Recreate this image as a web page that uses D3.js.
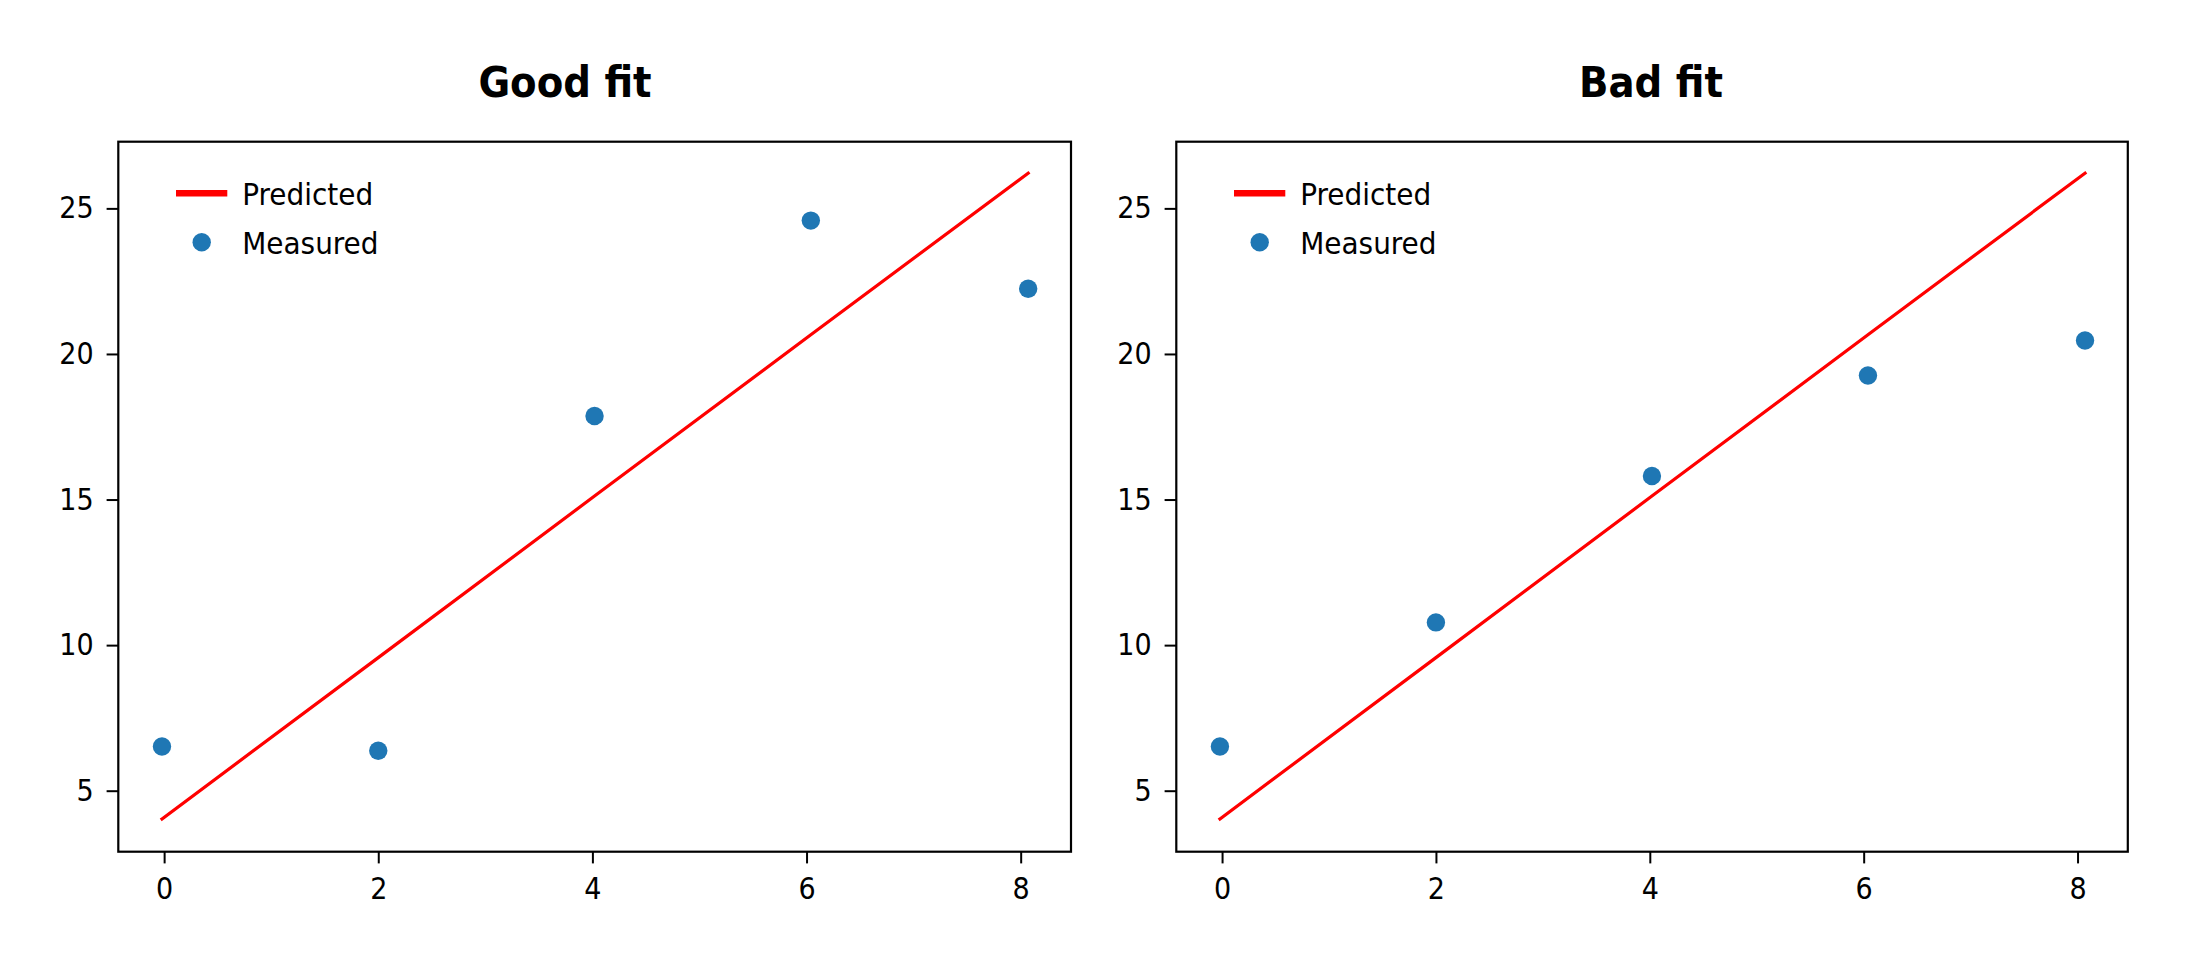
<!DOCTYPE html>
<html>
<head>
<meta charset="utf-8">
<script src="https://cdn.jsdelivr.net/npm/d3@7"></script>
<style>
  html, body { margin: 0; padding: 0; background: #fff; }
  svg { display: block; }
  text { font-family: "DejaVu Sans Condensed", "DejaVu Sans", sans-serif; font-stretch: condensed; fill: #000; }
</style>
</head>
<body>
<svg id="chart" width="2188" height="963"></svg>
<script>
// ---- data ----
const panelTitles = ["Good fit", "Bad fit"];
const xValues = [-0.02, 2.0, 4.02, 6.04, 8.07];
const predicted = [4.03, 9.57, 15.12, 20.66, 26.21];
const measuredGood = [6.52, 6.37, 17.87, 24.58, 22.24];
const measuredBad = [6.52, 10.78, 15.81, 19.26, 20.46];
const xTicks = [0, 2, 4, 6, 8];
const yTicks = [5, 10, 15, 20, 25];
const legendLabels = ["Predicted", "Measured"];

(function () {
const svg = d3.select("#chart");
const panels = [
  { title: panelTitles[0], measured: measuredGood, left: 118.3, right: 1071, titleX: 565 },
  { title: panelTitles[1], measured: measuredBad, left: 1176.3, right: 2127.8, titleX: 1651 }
];
const plotTop = 141.7, plotBottom = 851.7;
const xDomain = [-0.428, 8.47];
const yDomain = [2.905, 27.29];

panels.forEach(p => {
  const x = d3.scaleLinear().domain(xDomain).range([p.left, p.right]);
  const y = d3.scaleLinear().domain(yDomain).range([plotBottom, plotTop]);
  const g = svg.append("g");

  // predicted line
  const line = d3.line().x((d, i) => x(xValues[i])).y(d => y(d));
  g.append("path").datum(predicted)
    .attr("d", line).attr("fill", "none")
    .attr("stroke", "#ff0000").attr("stroke-width", 3.2)
    .attr("stroke-linecap", "square");

  // measured points
  g.selectAll("circle.pt").data(p.measured).enter().append("circle")
    .attr("class", "pt")
    .attr("cx", (d, i) => x(xValues[i])).attr("cy", d => y(d))
    .attr("r", 9.2).attr("fill", "#1f77b4");

  // axes
  const xAxis = d3.axisBottom(x).tickValues(xTicks).tickSize(11.7).tickPadding(14).tickFormat(d3.format("d"));
  const yAxis = d3.axisLeft(y).tickValues(yTicks).tickSize(11.7).tickPadding(13).tickFormat(d3.format("d"));
  const gx = g.append("g").attr("transform", `translate(0,${plotBottom})`).call(xAxis);
  const gy = g.append("g").attr("transform", `translate(${p.left},0)`).call(yAxis);
  [gx, gy].forEach(a => {
    a.select(".domain").remove();
    a.selectAll(".tick line").attr("stroke", "#000").attr("stroke-width", 2);
    a.selectAll(".tick text").attr("font-size", 30)
      .style("font-family", '"DejaVu Sans Condensed", "DejaVu Sans", sans-serif');
  });
  gx.selectAll(".tick text").attr("dy", "0.71em");

  // frame
  g.append("rect").attr("x", p.left).attr("y", plotTop)
    .attr("width", p.right - p.left).attr("height", plotBottom - plotTop)
    .attr("fill", "none").attr("stroke", "#000").attr("stroke-width", 2.2);

  // title
  g.append("text").attr("x", p.titleX).attr("y", 96.7)
    .attr("text-anchor", "middle").attr("font-size", 43).attr("font-weight", "bold")
    .text(p.title);

  // legend
  const lx = p.left + 57.7;
  g.append("line").attr("x1", lx).attr("x2", lx + 51.3)
    .attr("y1", 193.3).attr("y2", 193.3)
    .attr("stroke", "#ff0000").attr("stroke-width", 6.5);
  g.append("circle").attr("cx", lx + 25.7).attr("cy", 242.3).attr("r", 9.2).attr("fill", "#1f77b4");
  g.append("text").attr("x", lx + 66.3).attr("y", 205).attr("font-size", 31).text(legendLabels[0]);
  g.append("text").attr("x", lx + 66.3).attr("y", 254.3).attr("font-size", 31).text(legendLabels[1]);
});
})();
</script>
</body>
</html>
